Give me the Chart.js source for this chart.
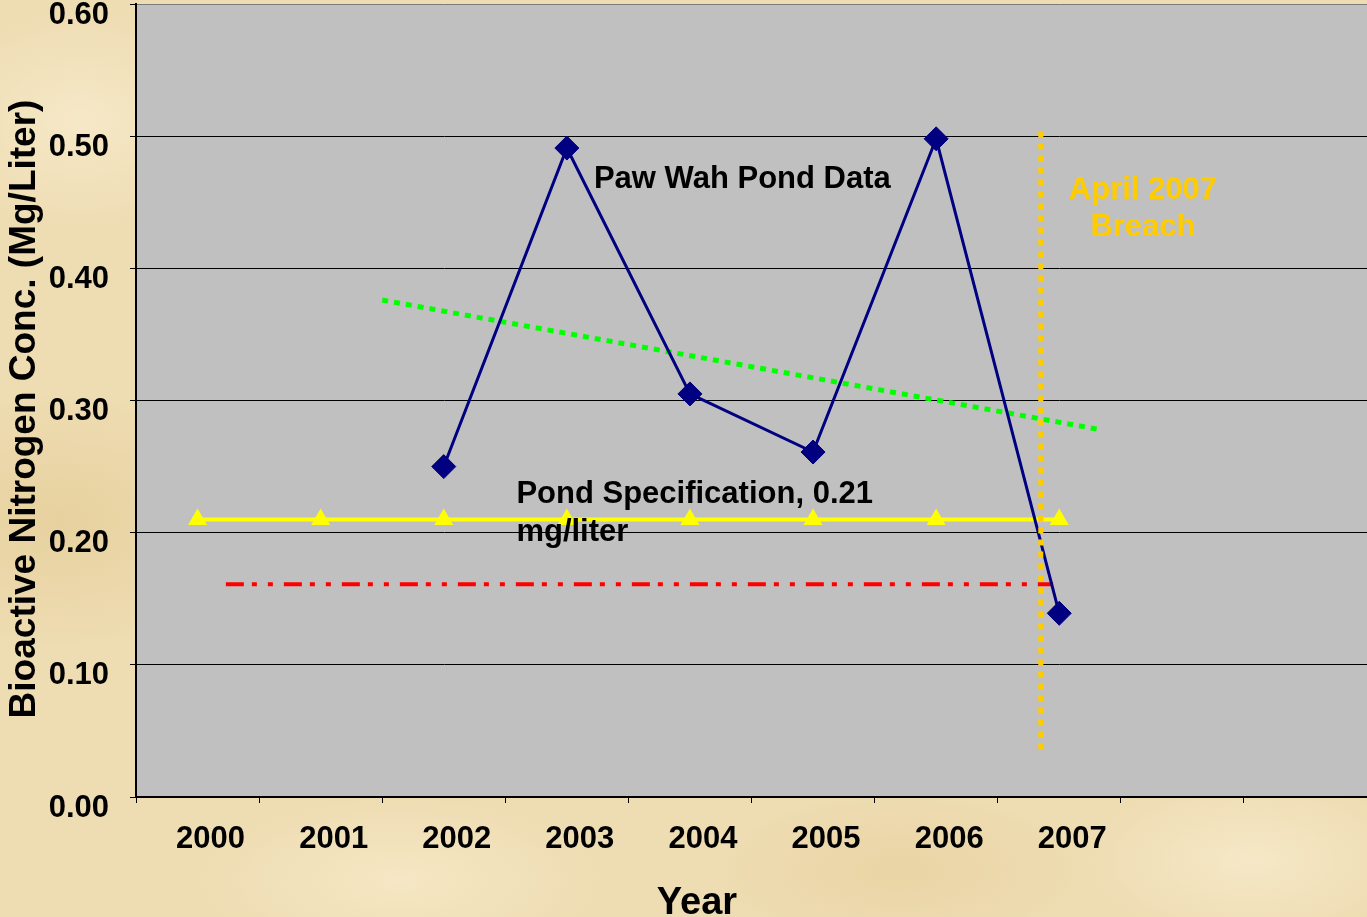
<!DOCTYPE html>
<html>
<head>
<meta charset="utf-8">
<script src="https://cdn.jsdelivr.net/npm/chart.js@4.4.0/dist/chart.umd.min.js"></script>
<style>
  html, body { margin: 0; padding: 0; }
  body {
    width: 1367px;
    height: 917px;
    overflow: hidden;
    background-color: #eedcb2;
    background-image:
      radial-gradient(ellipse 220px 160px at 80px 120px, rgba(248, 236, 205, 0.8), rgba(248, 236, 205, 0) 70%),
      radial-gradient(ellipse 260px 180px at 60px 520px, rgba(228, 204, 150, 0.7), rgba(228, 204, 150, 0) 70%),
      radial-gradient(ellipse 300px 120px at 400px 880px, rgba(247, 234, 200, 0.8), rgba(247, 234, 200, 0) 70%),
      radial-gradient(ellipse 260px 110px at 900px 870px, rgba(230, 207, 155, 0.6), rgba(230, 207, 155, 0) 70%),
      radial-gradient(ellipse 240px 120px at 1250px 860px, rgba(248, 235, 204, 0.8), rgba(248, 235, 204, 0) 70%);
  }
  canvas { display: block; }
</style>
</head>
<body>
<canvas id="chart" width="1367" height="917"></canvas>
<script>
const YEARS = ["2000", "2001", "2002", "2003", "2004", "2005", "2006", "2007", "", ""];
const POND_DATA = [null, null, 0.25, 0.491, 0.305, 0.261, 0.498, 0.139, null, null];
const POND_SPEC = [0.21, 0.21, 0.21, 0.21, 0.21, 0.21, 0.21, 0.21, null, null];

// lines that don't sit on a category, on a 0..9 position scale
const TREND_X = [1.5, 7.33];
const TREND_Y = [0.376, 0.278];
const LIMIT_X = [0.23, 6.95];
const LIMIT_Y = [0.161, 0.161];
const BREACH_X = [6.85, 6.85];
const BREACH_Y = [0.036, 0.504];

const Y_MIN = 0;
const Y_MAX = 0.6;
const Y_STEP = 0.1;

const FONT = "'Liberation Sans', Arial, sans-serif";

function toPoints(xs, ys) {
  return xs.map((x, i) => ({ x: x, y: ys[i] }));
}

const plotBackground = {
  id: "plotBackground",
  beforeDraw(chart) {
    const { ctx, chartArea } = chart;
    ctx.save();
    ctx.fillStyle = "#c0c0c0";
    ctx.fillRect(chartArea.left, chartArea.top, chartArea.right - chartArea.left, chartArea.bottom - chartArea.top);
    ctx.restore();
  },
};

const textLabels = {
  id: "textLabels",
  afterDatasetsDraw(chart) {
    const { ctx } = chart;
    const x = chart.scales.x2;
    const y = chart.scales.y;
    ctx.save();
    ctx.font = "bold 31px " + FONT;
    ctx.textBaseline = "middle";
    ctx.fillStyle = "#000";
    ctx.textAlign = "left";
    ctx.fillText("Paw Wah Pond Data", x.getPixelForValue(3.22), y.getPixelForValue(0.467));
    ctx.fillText("Pond Specification, 0.21", x.getPixelForValue(2.59), y.getPixelForValue(0.229));
    ctx.fillText("mg/liter", x.getPixelForValue(2.59), y.getPixelForValue(0.2));
    ctx.fillStyle = "#ffcc00";
    ctx.textAlign = "center";
    ctx.fillText("April 2007", x.getPixelForValue(7.68), y.getPixelForValue(0.459));
    ctx.fillText("Breach", x.getPixelForValue(7.68), y.getPixelForValue(0.431));
    ctx.restore();
  },
  afterDraw(chart) {
    const { ctx } = chart;
    ctx.save();
    ctx.fillStyle = "#000";
    ctx.textAlign = "center";
    ctx.textBaseline = "middle";
    ctx.font = "bold 38px " + FONT;
    ctx.fillText("Year", 697, 904);
    ctx.translate(25, 409);
    ctx.rotate(-Math.PI / 2);
    ctx.font = "bold 37px " + FONT;
    ctx.fillText("Bioactive Nitrogen Conc. (Mg/Liter)", 0, 0);
    ctx.restore();
  },
};

const ctx = document.getElementById("chart").getContext("2d");
const chart = new Chart(ctx, {
  type: "line",
  data: {
    labels: YEARS,
    datasets: [
      {
        label: "Breach",
        data: toPoints(BREACH_X, BREACH_Y),
        xAxisID: "x2",
        borderColor: "#ffcc00",
        borderWidth: 5,
        borderDash: [6, 6],
        pointRadius: 0,
        order: 0,
      },
      {
        label: "Paw Wah Pond Data",
        data: POND_DATA,
        borderColor: "#000080",
        backgroundColor: "#000080",
        borderWidth: 3,
        pointStyle: "rectRot",
        pointRadius: 12,
        pointBorderWidth: 1,
        order: 1,
      },
      {
        label: "Pond Specification",
        data: POND_SPEC,
        borderColor: "#ffff00",
        backgroundColor: "#ffff00",
        borderWidth: 4,
        pointStyle: "triangle",
        pointRadius: 11,
        pointBorderWidth: 0,
        order: 2,
      },
      {
        label: "Trend",
        data: toPoints(TREND_X, TREND_Y),
        xAxisID: "x2",
        borderColor: "#00ff00",
        borderWidth: 5,
        borderDash: [6, 6],
        pointRadius: 0,
        order: 3,
      },
      {
        label: "Limit",
        data: toPoints(LIMIT_X, LIMIT_Y),
        xAxisID: "x2",
        borderColor: "#ff0000",
        borderWidth: 4,
        borderDash: [18, 8, 5, 11, 5, 11],
        pointRadius: 0,
        order: 4,
      },
    ],
  },
  options: {
    responsive: false,
    devicePixelRatio: 1,
    animation: false,
    layout: { autoPadding: false, padding: { top: 4, left: 0, right: 0, bottom: 0 } },
    plugins: {
      legend: { display: false },
      tooltip: { enabled: false },
    },
    scales: {
      x: {
        type: "category",
        offset: true,
        grid: {
          offset: true,
          drawOnChartArea: false,
          drawTicks: true,
          tickLength: 6,
          tickColor: "#000",
          tickWidth: 1,
        },
        border: { color: "#000", width: 2 },
        ticks: {
          color: "#000",
          font: { family: FONT, size: 31, weight: "bold" },
          padding: 18,
          labelOffset: 13,
          maxRotation: 0,
          autoSkip: false,
        },
        afterFit(scale) {
          scale.height = 120;
          scale.paddingLeft = 0;
          scale.paddingRight = 0;
        },
      },
      x2: {
        type: "linear",
        display: false,
        min: -0.5,
        max: 9.5,
      },
      y: {
        min: Y_MIN,
        max: Y_MAX,
        grid: {
          color: (c) => (c.tick && c.tick.value >= Y_MAX - 1e-9 ? "#7a7a7a" : "#000"),
          lineWidth: 1,
          tickLength: 6,
          tickColor: "#000",
        },
        border: { color: "#000", width: 2 },
        ticks: {
          stepSize: Y_STEP,
          color: "#000",
          font: { family: FONT, size: 31, weight: "bold" },
          padding: 21,
          labelOffset: 11,
          callback: (v) => v.toFixed(2),
        },
        afterFit(scale) {
          scale.width = 136;
          scale.paddingTop = 0;
          scale.paddingBottom = 0;
        },
      },
    },
  },
  plugins: [plotBackground, textLabels],
});
</script>
</body>
</html>
